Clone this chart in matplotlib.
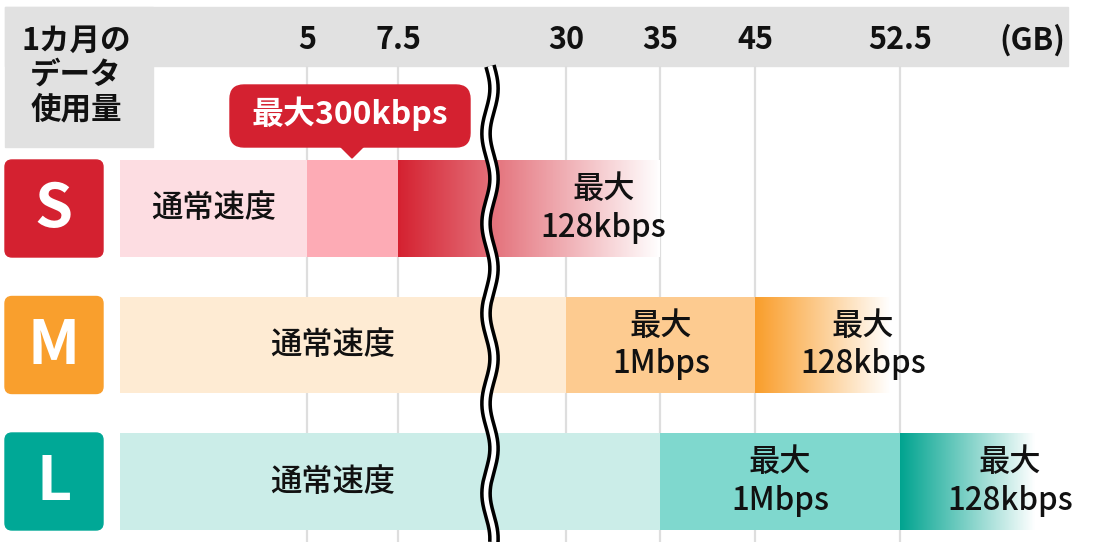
import numpy as np
import matplotlib
matplotlib.use('Agg')
import matplotlib.pyplot as plt
from matplotlib.patches import FancyBboxPatch, Polygon, Rectangle
from matplotlib.transforms import Affine2D, blended_transform_factory
from matplotlib.colors import to_rgb

plt.rcParams['font.family'] = ['Noto Sans CJK JP', 'DejaVu Sans']

# データ
plans = ['S', 'M', 'L']
plan_colors = ['#d42130', '#f99f2d', '#00a896']
tick_gb = [5, 7.5, 30, 35, 45, 52.5]
tick_labels = ['5', '7.5', '30', '35', '45', '52.5']

# 塗りつぶし区間 (開始GB, 終了GB, 色)
seg_S = [(0, 5, '#fddde2'), (5, 7.5, '#fdabb5')]
seg_M = [(0, 30, '#feebd3'), (30, 45, '#fdcb90')]
seg_L = [(0, 35, '#cbede8'), (35, 52.5, '#7fd8ce')]
segments = [seg_S, seg_M, seg_L]

# グラデーション区間 (開始GB, 終了GB, 色)
fades = [(7.5, 35, '#d42130'), (45, 52, '#f99d2a'), (52.5, 59.5, '#00a38f')]

# ラベル (位置GB, テキスト)
labels_S = [(2.5, '通常速度'), (32.0, '最大\n128kbps')]
labels_M = [(5.7, '通常速度'), (35.1, '最大\n1Mbps'), (50.6, '最大\n128kbps')]
labels_L = [(5.7, '通常速度'), (46.3, '最大\n1Mbps'), (58.2, '最大\n128kbps')]
bar_labels = [labels_S, labels_M, labels_L]

# 折れ線風の軸 (GB -> 位置)
gb_knots = [-10, 0, 5, 7.5, 30, 35, 45, 52.5, 80]
pos_knots = [-254, 120, 307, 398, 566, 660, 755, 900, 1431]


def fwd(x):
    return np.interp(x, gb_knots, pos_knots)


def inv(p):
    return np.interp(p, pos_knots, gb_knots)


W, H = 1100, 542
fig = plt.figure(figsize=(W / 100, H / 100), dpi=100)
ax = fig.add_axes([0, 0, 1, 1])
ax.set_xscale('function', functions=(fwd, inv))
ax.set_xlim(inv(0), inv(W))
ax.set_ylim(2.443, -1.527)
ax.axis('off')

px = Affine2D().scale(1 / W, -1 / H).translate(0, 1) + fig.transFigure
xblend = blended_transform_factory(ax.transData, px)

# ヘッダー
ax.add_patch(Rectangle((5, 7), 1063, 59, color='#e1e1e1', transform=px, zorder=1))
ax.add_patch(Rectangle((5, 7), 148, 140, color='#e1e1e1', transform=px, zorder=1))
for k, t in enumerate(['1カ月の', 'データ', '使用量']):
    ax.text(76, 41 + 34 * k, t, transform=px, ha='center', va='center',
            fontsize=22, weight='bold', color='#111111', zorder=5)
for v, t in zip(tick_gb, tick_labels):
    ax.text(v, 40, t, transform=xblend, ha='center', va='center', fontsize=22,
            weight='bold', color='#111111', zorder=5)
ax.text(1032, 40, '(GB)', transform=px, ha='center', va='center', fontsize=22,
        weight='bold', color='#111111', zorder=5)

# 目盛り線
ax.vlines(tick_gb, 66, H, transform=xblend, color='#dedede', lw=1.6, zorder=1)

bh = 0.71
for i, p in enumerate(plans):
    # バッジ
    yc = 208.5 + 136.5 * i
    ax.add_patch(FancyBboxPatch((5, yc - 48.5), 98, 97, boxstyle='round,pad=0,rounding_size=7',
                                color=plan_colors[i], transform=px, zorder=3))
    ax.text(54, yc + 1, p, transform=px, ha='center', va='center', fontsize=44,
            weight='bold', color='white', zorder=5)
    for s, e, c in segments[i]:
        ax.barh(i, e - s, left=s, height=bh, color=c, lw=0, zorder=2)
    s, e, c = fades[i]
    n = 300
    pp = np.linspace(fwd(s), fwd(e), n + 1)
    g = inv(pp)
    a = 1 - (pp[:-1] - pp[0]) / (pp[-1] - pp[0])
    rgb = np.array(to_rgb(c))
    cols = a[:, None] * rgb + (1 - a[:, None]) * 1.0
    ax.barh(np.full(n, i), np.diff(g) * 1.02, left=g[:-1], height=bh, color=cols,
            lw=0, antialiased=False, zorder=2)
    for x, t in bar_labels[i]:
        ax.text(x, i, t, ha='center', va='center', fontsize=22.5, color='#111111',
                weight='medium', linespacing=1.25, zorder=5)

# 省略線
yy = np.linspace(66, H, 400)
xx = 490 + 4 * np.sin(2 * np.pi * (yy - 66) / 90)
ax.plot(xx, yy, color='black', lw=8.5, transform=px, zorder=6, solid_capstyle='butt')
ax.plot(xx, yy, color='white', lw=3.4, transform=px, zorder=7, solid_capstyle='butt')

# 吹き出し
ax.add_patch(FancyBboxPatch((230, 85), 240, 62, boxstyle='round,pad=0,rounding_size=14',
                            color='#d42130', transform=px, zorder=8))
ax.add_patch(Polygon([(340, 146), (364, 146), (352, 158)], closed=True, color='#d42130',
                     transform=px, zorder=8))
ax.text(350, 114, '最大300kbps', transform=px, ha='center', va='center', fontsize=23,
        weight='bold', color='white', zorder=9)

fig.savefig('out.png', dpi=100)
